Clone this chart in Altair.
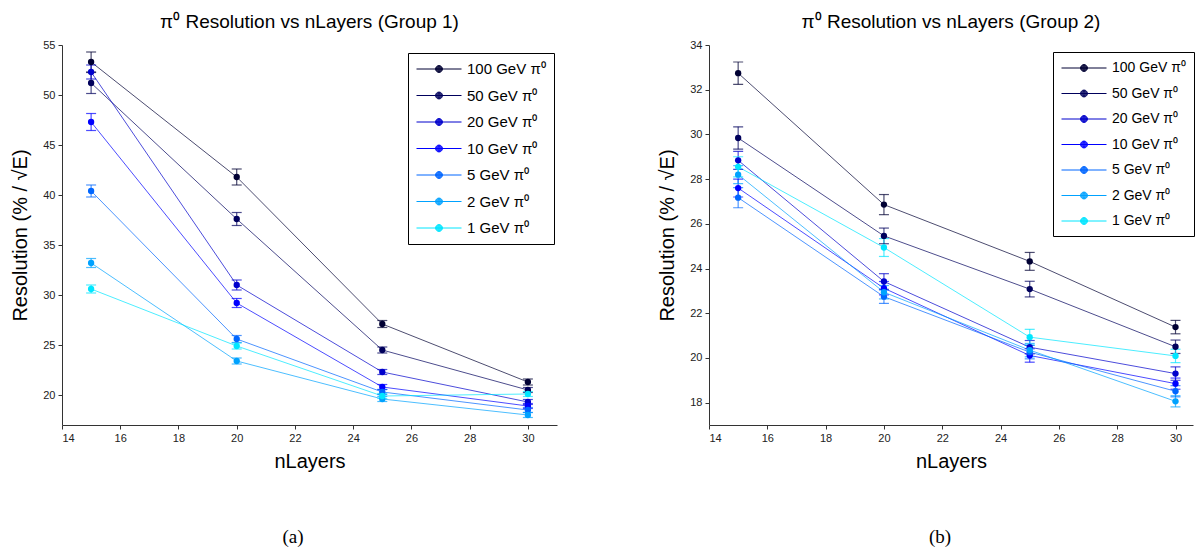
import altair as alt
import pandas as pd

series = ["100 GeV π⁰", "50 GeV π⁰", "20 GeV π⁰", "10 GeV π⁰", "5 GeV π⁰", "2 GeV π⁰", "1 GeV π⁰"]
colors = ["#000033", "#00005c", "#0000cc", "#0000ff", "#0066ff", "#00a2ff", "#00e6ff"]
layers = [15, 20, 25, 30]

# Group 1 resolution values and errors
g1_res = {
    "100 GeV π⁰": [53.3, 41.8, 27.1, 21.3],
    "50 GeV π⁰": [51.2, 37.6, 24.5, 20.5],
    "20 GeV π⁰": [52.3, 31.0, 22.3, 19.3],
    "10 GeV π⁰": [47.3, 29.2, 20.8, 18.9],
    "5 GeV π⁰": [40.4, 25.6, 20.3, 18.5],
    "2 GeV π⁰": [33.2, 23.4, 19.6, 18.0],
    "1 GeV π⁰": [30.6, 24.9, 19.9, 20.1],
}
g1_err = {
    "100 GeV π⁰": [1.0, 0.8, 0.35, 0.3],
    "50 GeV π⁰": [1.05, 0.65, 0.3, 0.25],
    "20 GeV π⁰": [0.7, 0.5, 0.25, 0.25],
    "10 GeV π⁰": [0.85, 0.45, 0.25, 0.25],
    "5 GeV π⁰": [0.6, 0.35, 0.25, 0.25],
    "2 GeV π⁰": [0.45, 0.3, 0.25, 0.25],
    "1 GeV π⁰": [0.4, 0.3, 0.25, 0.25],
}
# Group 2
g2_res = {
    "100 GeV π⁰": [32.74, 26.86, 24.32, 21.38],
    "50 GeV π⁰": [29.84, 25.46, 23.08, 20.5],
    "20 GeV π⁰": [28.84, 23.42, 20.48, 19.3],
    "10 GeV π⁰": [27.6, 23.12, 20.11, 18.85],
    "5 GeV π⁰": [27.17, 22.74, 20.26, 18.51],
    "2 GeV π⁰": [28.2, 22.94, 20.35, 18.06],
    "1 GeV π⁰": [28.55, 24.94, 20.93, 20.09],
}
g2_err = {
    "100 GeV π⁰": [0.5, 0.45, 0.4, 0.3],
    "50 GeV π⁰": [0.5, 0.35, 0.35, 0.3],
    "20 GeV π⁰": [0.4, 0.35, 0.3, 0.3],
    "10 GeV π⁰": [0.4, 0.3, 0.3, 0.25],
    "5 GeV π⁰": [0.45, 0.3, 0.3, 0.25],
    "2 GeV π⁰": [0.4, 0.3, 0.3, 0.25],
    "1 GeV π⁰": [0.45, 0.4, 0.35, 0.3],
}

FONT = "Liberation Sans"


def ring(r):
    a, b = 2 + r, 2 - r
    return f"M{a:.2f},0A{r:.2f},{r:.2f} 0 1,1 {b:.2f},0A{r:.2f},{r:.2f} 0 1,1 {a:.2f},0 "


# legend symbol: line with a dot drawn as concentric rings
SYMBOL = "M-1,0L5,0 " + "".join(ring(r) for r in [0.46, 0.38, 0.3, 0.22, 0.14, 0.06])


def make_df(res, err):
    rows = []
    for s in series:
        for i, n in enumerate(layers):
            v, e = res[s][i], err[s][i]
            rows.append({"nLayers": n, "res": v, "lo": v - e, "hi": v + e, "series": s})
    return pd.DataFrame(rows)


def panel(res, err, title, ydom, yticks, width, xdom, legx, legy, caption, lfs, lexpr):
    df = make_df(res, err)
    base = alt.Chart(df)
    xenc = alt.X("nLayers:Q", scale=alt.Scale(domain=xdom, nice=False, zero=False),
                 axis=alt.Axis(values=list(range(14, 31, 2)), title="nLayers"))
    yaxis = alt.Axis(values=yticks, title="Resolution (% / √E)")
    yscale = alt.Scale(domain=ydom, nice=False, zero=False)
    legend = alt.Legend(title=None, orient="none", legendX=legx, legendY=legy,
                        symbolType=SYMBOL, symbolSize=225, symbolStrokeWidth=1, symbolOpacity=1,
                        labelOffset=35, labelFontSize=lfs, labelFont=FONT, labelColor="#000000",
                        rowPadding=10.5, padding=8, strokeColor="#000000", fillColor="#ffffff",
                        labelLimit=200, labelExpr=lexpr)
    cscale = alt.Scale(domain=series, range=colors)
    line = base.mark_line(strokeWidth=1, opacity=0.7).encode(
        x=xenc, y=alt.Y("res:Q", scale=yscale, axis=yaxis),
        color=alt.Color("series:N", scale=cscale, sort=series, legend=legend),
        order=alt.Order("nLayers:Q"))
    rule = base.mark_rule(strokeWidth=1.2, opacity=0.7).encode(
        x=xenc, y=alt.Y("lo:Q", scale=yscale), y2="hi:Q",
        color=alt.Color("series:N", scale=cscale, sort=series, legend=None))
    cap_lo = base.mark_tick(size=10, thickness=1.2, orient="horizontal", opacity=0.7).encode(
        x=xenc, y=alt.Y("lo:Q", scale=yscale),
        color=alt.Color("series:N", scale=cscale, sort=series, legend=None))
    cap_hi = base.mark_tick(size=10, thickness=1.2, orient="horizontal", opacity=0.7).encode(
        x=xenc, y=alt.Y("hi:Q", scale=yscale),
        color=alt.Color("series:N", scale=cscale, sort=series, legend=None))
    pts = base.mark_circle(size=40, opacity=1).encode(
        x=xenc, y=alt.Y("res:Q", scale=yscale),
        color=alt.Color("series:N", scale=cscale, sort=series, legend=None))
    cap = alt.Chart(pd.DataFrame({"t": [caption]})).mark_text(
        font="Liberation Serif", fontSize=19, color="#000000", align="center", baseline="middle"
    ).encode(text="t:N", x=alt.value(231), y=alt.value(492))
    return alt.layer(line, rule, cap_lo, cap_hi, pts, cap).properties(
        width=width, height=380,
        title=alt.TitleParams(title, fontSize=19, font=FONT, fontWeight="normal", color="#000000", offset=7)
    ).resolve_scale(color="independent")


left = panel(g1_res, g1_err, "π⁰ Resolution vs nLayers (Group 1)", [17, 55], list(range(20, 56, 5)),
             495, [14, 31], 346, 8, "(a)", 15, "datum.label + '\u00a0\u00a0'")
right = panel(g2_res, g2_err, "π⁰ Resolution vs nLayers (Group 2)", [17, 34], list(range(18, 35, 2)),
              484, [14, 30.6], 344, 7, "(b)", 14, "datum.label")

chart = alt.hconcat(left, right, spacing=100).resolve_scale(color="independent").resolve_legend(
    color="independent"
).properties(padding={"left": 2, "top": 5, "right": 0, "bottom": 0}).configure_view(
    stroke=None
).configure_axis(
    grid=False, domainColor="#333333", tickColor="#333333", tickSize=4, labelFont=FONT,
    labelFontSize=11, labelColor="#222222", titleFont=FONT, titleFontSize=20,
    titleFontWeight="normal", titleColor="#000000", labelPadding=3
).configure_axisY(titlePadding=12).configure_axisX(titlePadding=8)

chart.save("out.html", embed_options={"renderer": "svg", "actions": False})
